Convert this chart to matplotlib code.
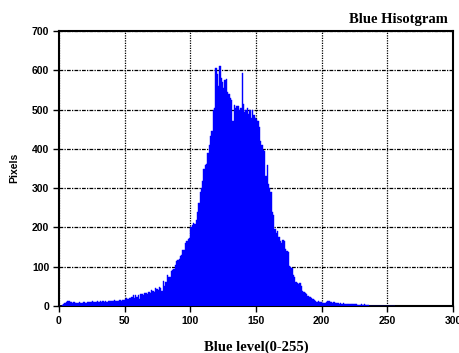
import matplotlib
matplotlib.use("Agg")
import matplotlib.pyplot as plt
import numpy as np

levels = list(range(256))
counts = [
    0, 0, 2, 5, 8, 10, 13, 12, 10, 9,
    8, 9, 8, 7, 8, 9, 8, 7, 9, 10,
    8, 10, 11, 9, 10, 12, 10, 11, 10, 12,
    11, 12, 10, 13, 11, 12, 11, 13, 12, 14,
    12, 13, 16, 12, 14, 13, 15, 14, 16, 15,
    17, 20, 19, 21, 20, 22, 27, 21, 28, 24,
    29, 19, 30, 31, 29, 34, 32, 30, 35, 33,
    41, 38, 36, 45, 44, 40, 48, 46, 39, 64,
    52, 60, 78, 75, 73, 90, 92, 95, 105, 115,
    117, 120, 128, 130, 143, 142, 160, 165, 170, 172,
    200, 205, 212, 210, 218, 240, 262, 290, 300, 318,
    350, 360, 362, 390, 410, 432, 445, 500, 505, 606,
    590, 560, 612, 580, 570, 556, 575, 578, 545, 540,
    530, 525, 470, 512, 505, 508, 510, 500, 505, 592,
    515, 495, 498, 505, 488, 500, 478, 498, 485, 478,
    475, 470, 455, 420, 410, 398, 395, 330, 360, 310,
    300, 290, 240, 232, 195, 185, 190, 175, 165, 160,
    168, 165, 145, 140, 138, 103, 100, 98, 80, 74,
    62, 58, 55, 58, 50, 38, 36, 33, 30, 25,
    24, 23, 21, 18, 16, 13, 11, 12, 9, 10,
    8, 7, 8, 11, 14, 12, 10, 10, 8, 9,
    8, 7, 8, 6, 7, 6, 7, 5, 6, 6,
    5, 6, 5, 5, 4, 5, 4, 3, 3, 2,
    4, 2, 4, 3, 3, 2, 0, 0, 0, 0,
    0, 0, 0, 0, 0, 0, 0, 0, 0, 0,
    0, 0, 0, 0, 0, 0,
]
x_ticks = [0, 50, 100, 150, 200, 250, 300]
y_ticks = [0, 100, 200, 300, 400, 500, 600, 700]

fig = plt.figure(figsize=(4.6, 3.53), dpi=100)
ax = fig.add_axes([59/460, 1 - 306/353, (453-59)/460, (306-31)/353])

ax.bar(levels, counts, width=1.0, color="#0000FF", edgecolor="#0000FF",
       linewidth=0.3, align="edge", zorder=3)

ax.set_xlim(0, 300)
ax.set_ylim(0, 700)
ax.set_xticks(x_ticks)
ax.set_yticks(y_ticks)

sans = "Liberation Sans"
serif = "Liberation Serif"
for lab in ax.get_xticklabels() + ax.get_yticklabels():
    lab.set_fontfamily(sans)
    lab.set_fontweight("bold")
    lab.set_fontsize(7.5)

ax.tick_params(direction="out", length=4, width=1, pad=3)

ax.yaxis.grid(True, color="black", linestyle=(0, (3, 1, 1, 1)), linewidth=0.9, zorder=1)
ax.xaxis.grid(True, color="black", linestyle=(0, (1, 1)), linewidth=0.9, zorder=1)
ax.set_axisbelow(True)

for s in ax.spines.values():
    s.set_linewidth(1.5)
    s.set_color("black")

fig.text(448/460, 1 - 19/353, "Blue Hisotgram", ha="right", va="center",
         fontfamily=serif, fontweight="bold", fontsize=10.5)
fig.text(256/460, 1 - 347/353, "Blue level(0-255)", ha="center", va="center",
         fontfamily=serif, fontweight="bold", fontsize=10.5)
fig.text(14/460, 1 - 168/353, "Pixels", ha="center", va="center", rotation=90,
         fontfamily=sans, fontweight="bold", fontsize=7.5)

fig.savefig("out.png", dpi=100)
